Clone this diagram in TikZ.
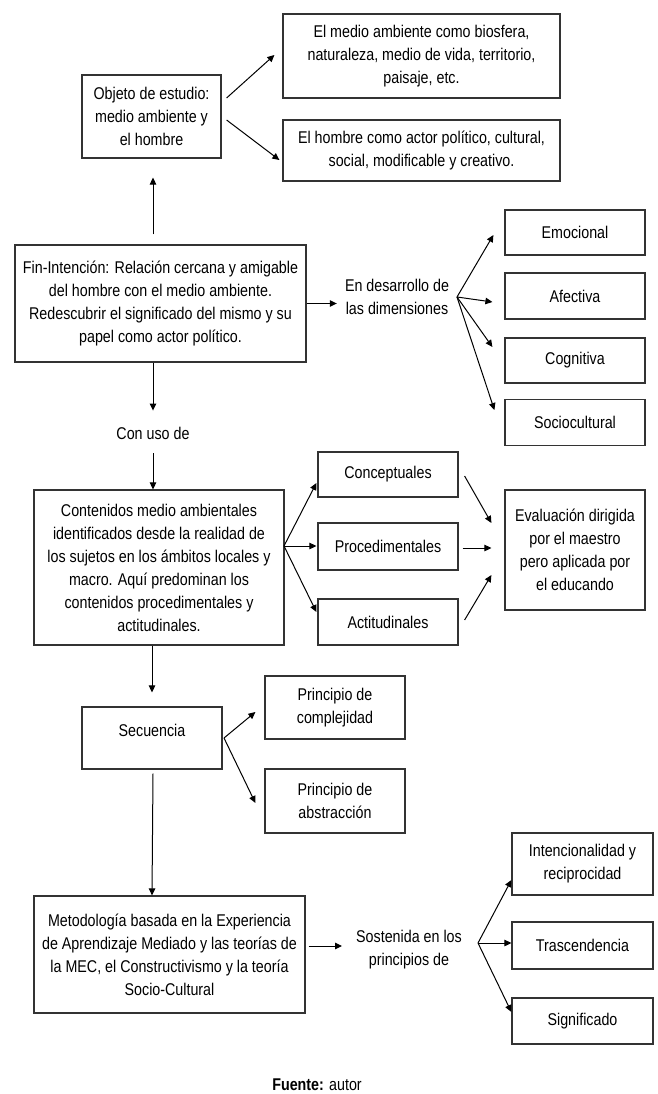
\documentclass[tikz,border=0pt]{standalone}
\usepackage{fontspec}
\setmainfont{Liberation Sans}[FakeStretch=0.84]
\usetikzlibrary{arrows.meta,calc}
\newcommand\fs{\fontsize{17}{23}\selectfont}
\begin{document}
\begin{tikzpicture}[x=1pt,y=-1pt,
 box/.style={draw=black!80,line width=1.2pt,inner sep=2pt,align=center,font=\fs,fill=white},
 txt/.style={inner sep=0pt,align=center,font=\fs},
 arr/.style={line width=1pt,-{Triangle[length=7pt,width=6.5pt]}},
 ln/.style={line width=1pt}]
\useasboundingbox (0,0) rectangle (658,1094);
\fill[white] (0,0) rectangle (658,1094);

% boxes
\node[box,minimum width=277pt,minimum height=84pt] (ma) at (421.5,56) {El medio ambiente como biosfera,\\naturaleza, medio de vida, territorio,\\paisaje, etc.};
\node[box,minimum width=277pt,minimum height=61pt] (ho) at (421.5,150.5) {El hombre como actor político, cultural,\\social, modificable y creativo.};
\node[box,minimum width=139pt,minimum height=83pt] (obj) at (151.5,116.5) {Objeto de estudio:\\medio ambiente y\\el hombre};
\node[box,minimum width=291pt,minimum height=117pt] (fin) at (160.5,303.5) {Fin-Intención: Relación cercana y amigable\\del hombre con el medio ambiente.\\Redescubrir el significado del mismo y su\\papel como actor político.};
\node[txt] (en) at (397,297) {En desarrollo de\\las dimensiones};
\node[box,minimum width=140pt,minimum height=45pt] (emo) at (575,232.5) {Emocional};
\node[box,minimum width=140pt,minimum height=46pt] (afe) at (575,296) {Afectiva};
\node[box,minimum width=140pt,minimum height=45pt] (cog) at (575,360.5) {Cognitiva};
\node[box,minimum width=140pt,minimum height=46pt] (soc) at (575,422.5) {Sociocultural};
\node[txt] (uso) at (153,433) {Con uso de};
\node[box,minimum width=250pt,minimum height=155pt] (cont) at (159,567.5) {Contenidos medio ambientales\\identificados desde la realidad de\\los sujetos en los ámbitos locales y\\macro. Aquí predominan los\\contenidos procedimentales y\\actitudinales.};
\node[box,minimum width=140pt,minimum height=45pt] (conc) at (388,474.5) {Conceptuales};
\node[box,minimum width=140pt,minimum height=47pt] (proc) at (388,546.5) {Procedimentales};
\node[box,minimum width=140pt,minimum height=46pt] (acti) at (388,622) {Actitudinales};
\node[box,minimum width=140pt,minimum height=120pt] (eval) at (575,550) {Evaluación dirigida\\por el maestro\\pero aplicada por\\el educando};
\node[box,minimum width=140pt,minimum height=62pt] (sec) at (152,738) {\raisebox{8pt}[\height][\depth]{Secuencia}};
\node[box,minimum width=140pt,minimum height=63pt] (pcomp) at (335,707.5) {Principio de\\complejidad};
\node[box,minimum width=140pt,minimum height=64pt] (pabs) at (335,801) {Principio de\\abstracción};
\node[box,minimum width=271pt,minimum height=117pt] (met) at (169.5,954.5) {Metodología basada en la Experiencia\\de Aprendizaje Mediado y las teorías de\\la MEC, el Constructivismo y la teoría\\Socio-Cultural};
\node[txt] (sost) at (409,949.5) {Sostenida en los\\principios de};
\node[box,minimum width=141pt,minimum height=62pt] (inten) at (582.5,864) {Intencionalidad y\\reciprocidad};
\node[box,minimum width=141pt,minimum height=47pt] (tras) at (582.5,945.5) {Trascendencia};
\node[box,minimum width=141pt,minimum height=46pt] (sig) at (582.5,1021) {Significado};
\node[txt] (fuente) at (317,1085) {\textbf{Fuente:} autor};

% fan origins
\coordinate (enfan) at (457,297);
\coordinate (cfan) at (284,546);
\coordinate (sfan) at (224,738);
\coordinate (pfan) at (478,943);

% connectors
\draw[arr] ($(obj.east)+(5,-18.5)$) -- ($(ma.west)+(-8,-1)$);
\draw[arr] ($(obj.east)+(5,3.5)$) -- ($(ho.west)+(-3,9.5)$);
\draw[arr] ($(fin.north)+(-7.5,-10)$) -- ($(obj.south)+(1.5,19)$);
\draw[arr] (fin.east) -- ($(en.west)+(-8,6.5)$);
\draw[arr] (enfan) -- ($(emo.west)+(-11,2.5)$);
\draw[arr] (enfan) -- ($(afe.west)+(-12,6)$);
\draw[arr] (enfan) -- ($(cog.west)+(-12,-13.5)$);
\draw[arr] (enfan) -- ($(soc.west)+(-10,-12.5)$);
\draw[arr] ($(fin.south)+(-7.5,0)$) -- ($(uso.north)+(0,-16)$);
\draw[arr] ($(uso.south)+(0,14)$) -- (cont.north -| uso.south);
\draw[arr] (cfan) -- ($(conc.west)+(-1,8.5)$);
\draw[arr] (cfan) -- ($(proc.west)+(-1,-0.5)$);
\draw[arr] (cfan) -- ($(acti.west)+(-1,-10)$);
\draw[arr] ($(conc.east)+(6,1.5)$) -- ($(eval.west)+(-13,-27)$);
\draw[arr] ($(proc.east)+(4,1.5)$) -- ($(eval.west)+(-13,-2)$);
\draw[arr] ($(acti.east)+(6,-2)$) -- ($(eval.west)+(-13,25)$);
\draw[arr] (cont.south -| sec.north) -- ($(sec.north)+(0,-14)$);
\draw[arr] (sfan) -- ($(pcomp.west)+(-9,4.5)$);
\draw[arr] (sfan) -- ($(pabs.west)+(-9,2)$);
\draw[arr] ($(sec.south)+(1,4)$) -- (met.north -| sec.south);
\draw[arr] ($(met.east)+(3,-8.5)$) -- ($(sost.west)+(-14,-3.5)$);
\draw[arr] (pfan) -- ($(inten.west)+(0,16)$);
\draw[arr] (pfan) -- ($(tras.west)+(0,-2.5)$);
\draw[arr] (pfan) -- ($(sig.west)+(0,-9)$);
\end{tikzpicture}
\end{document}
